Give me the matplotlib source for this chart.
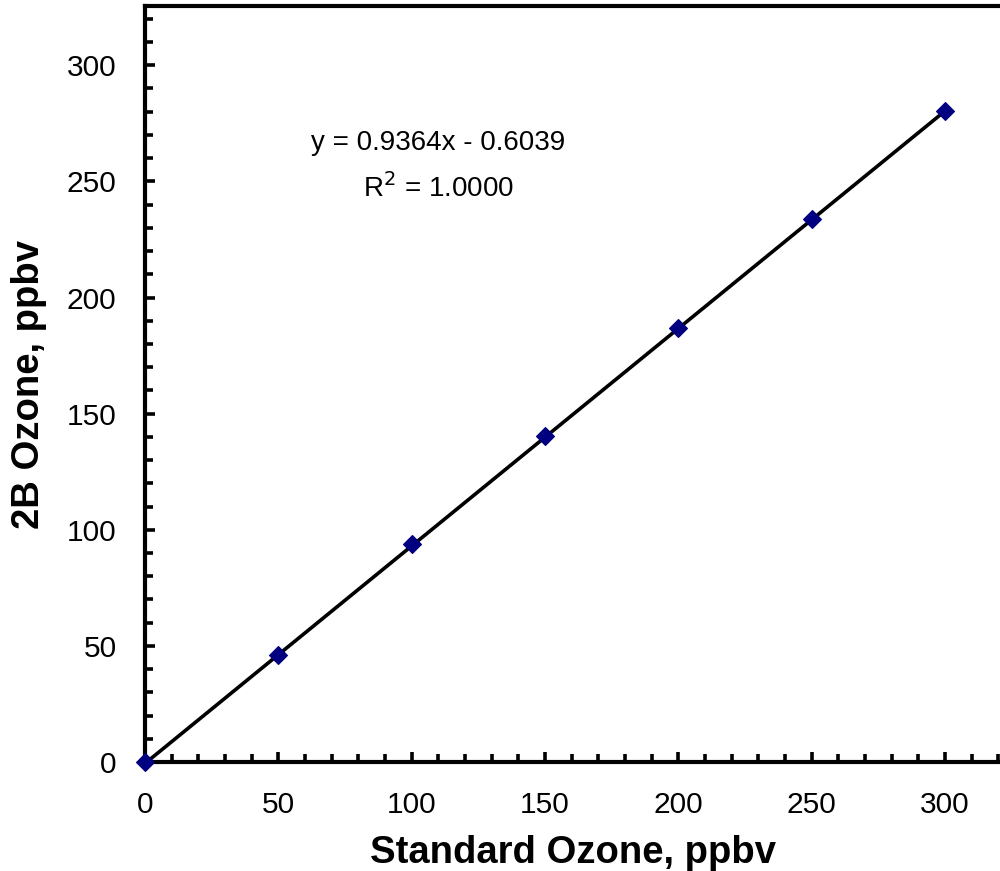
import numpy as np
import matplotlib.pyplot as plt
from matplotlib.ticker import MultipleLocator, FixedLocator

plt.rcParams['font.family'] = ['Liberation Sans', 'DejaVu Sans']

# calibration points
standard_ozone = [0, 50, 100, 150, 200, 250, 300]
ozone_2b = [0, 45.9, 93.8, 140.2, 186.7, 234.0, 280.5]

slope = 0.9364
intercept = -0.6039
fit_x = [0, 300]

x_major = [0, 50, 100, 150, 200, 250, 300]
y_major = [0, 50, 100, 150, 200, 250, 300]

fig = plt.figure(figsize=(10, 8.71), dpi=100)
ax = fig.add_axes([0.145, 0.1251, 0.855, 0.868])

ax.plot(fit_x, [slope * v + intercept for v in fit_x], color='black', lw=2.6, zorder=2)
ax.plot(standard_ozone, ozone_2b, linestyle='none', marker='D', markersize=9.5,
        markeredgewidth=0.8, color='#000080', zorder=3, clip_on=False)

ax.set_xlim(0, 320.6)
ax.set_ylim(0, 325.5)
ax.xaxis.set_major_locator(FixedLocator(x_major))
ax.xaxis.set_minor_locator(MultipleLocator(10))
ax.yaxis.set_major_locator(FixedLocator(y_major))
ax.yaxis.set_minor_locator(MultipleLocator(10))
ax.tick_params(which='both', direction='in', width=2.6, labelsize=21.5, top=False, right=False)
ax.tick_params(which='major', length=7, pad=20.5)
ax.tick_params(which='minor', length=5.5)
for s in ax.spines.values():
    s.set_linewidth(3)
ax.spines['right'].set_visible(False)

ax.set_xlabel('Standard Ozone, ppbv', fontsize=27.5, fontweight='bold', va='baseline')
ax.xaxis.set_label_coords(0.501, -0.1336)
ax.set_ylabel('2B Ozone, ppbv', fontsize=27.5, fontweight='bold', va='center')
ax.yaxis.set_label_coords(-0.136, 0.5)

ax.text(109.9, 266.5, 'y = 0.9364x - 0.6039', fontsize=20, ha='center', va='center')
ax.text(109.9, 247, 'R$^2$ = 1.0000', fontsize=20, ha='center', va='center')

fig.savefig('out.png', dpi=100)
